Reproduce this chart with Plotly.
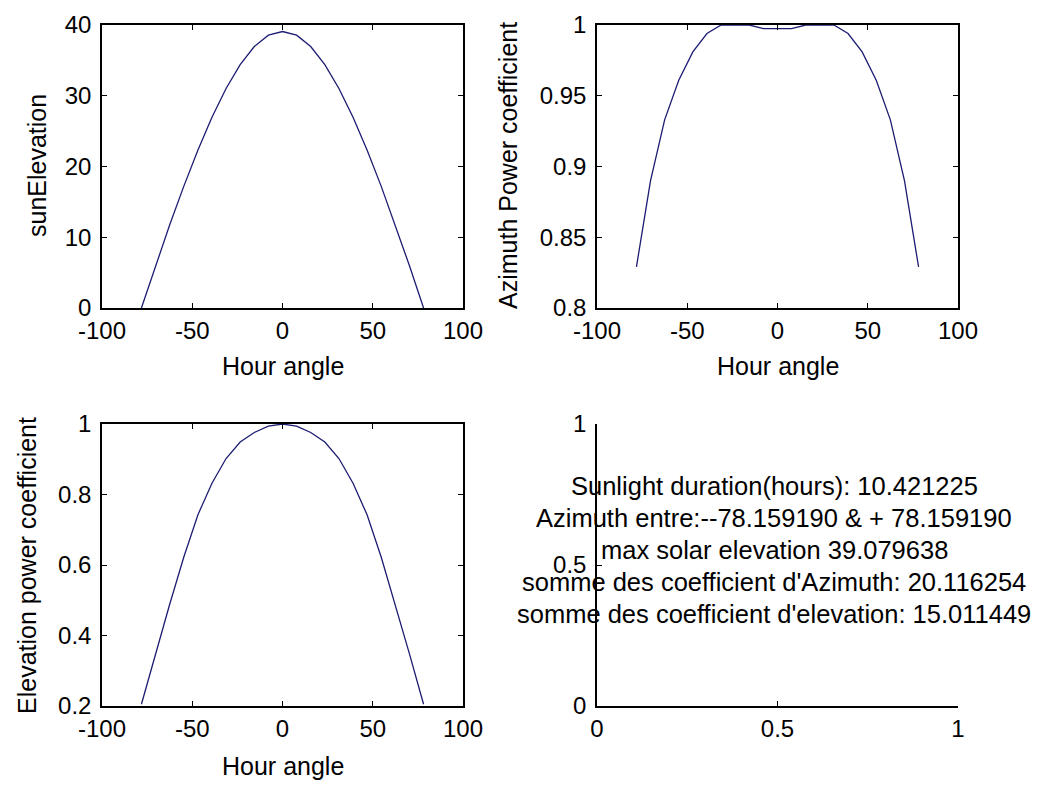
import plotly.graph_objects as go

# ---------------- data ----------------
hour_angle = [-78.16, -70.34, -62.53, -54.71, -46.90, -39.08, -31.26, -23.45, -15.63, -7.82,
              0.0, 7.82, 15.63, 23.45, 31.26, 39.08, 46.90, 54.71, 62.53, 70.34, 78.16]

sun_elevation = [0.0, 5.98, 11.73, 17.19, 22.30, 26.95, 31.03, 34.41, 36.96, 38.56,
                 39.08, 38.56, 36.96, 34.41, 31.03, 26.95, 22.30, 17.19, 11.73, 5.98, 0.0]

azimuth_coef = [0.829, 0.890, 0.933, 0.961, 0.981, 0.994, 1.0, 1.0, 1.0, 0.9975,
                0.9975, 0.9975, 1.0, 1.0, 1.0, 0.994, 0.981, 0.961, 0.933, 0.890, 0.829]

elevation_coef = [0.205, 0.348, 0.488, 0.622, 0.742, 0.832, 0.902, 0.949, 0.976, 0.994,
                  1.0, 0.994, 0.976, 0.949, 0.902, 0.832, 0.742, 0.622, 0.488, 0.348, 0.205]

x_ticks = [-100, -50, 0, 50, 100]
x_tick_text = ["-100", "-50", "0", "50", "100"]
elev_ticks = [0, 10, 20, 30, 40]
elev_tick_text = ["0", "10", "20", "30", "40"]
az_ticks = [0.8, 0.85, 0.9, 0.95, 1.0]
az_tick_text = ["0.8", "0.85", "0.9", "0.95", "1"]
ec_ticks = [0.2, 0.4, 0.6, 0.8, 1.0]
ec_tick_text = ["0.2", "0.4", "0.6", "0.8", "1"]
unit_ticks = [0, 0.5, 1]
unit_tick_text = ["0", "0.5", "1"]

info_lines = [
    "Sunlight duration(hours): 10.421225",
    "Azimuth entre:--78.159190 & + 78.159190",
    "max solar elevation 39.079638",
    "somme des coefficient d'Azimuth: 20.116254",
    "somme des coefficient d'elevation: 15.011449",
]

# ---------------- layout helpers ----------------
# the page body has an 8px default margin, so the figure is offset by 8px
OFF = 8
W, H = 1041 - OFF, 787 - OFF
FONT = "Liberation Sans, Arial, sans-serif"
LINE_COLOR = "#1c1c72"
TICK_SIZE = 24
TITLE_SIZE = 25
INFO_SIZE = 25.5


def px(a):
    return (a - OFF) / W


def py(a):
    return 1 - (a - OFF) / H


col1 = [px(102), px(463)]
col2 = [px(597), px(958)]
row1 = [py(308), py(25)]
row2 = [py(706), py(424)]

fig = go.Figure()

fig.add_trace(go.Scatter(x=hour_angle, y=sun_elevation, mode="lines",
                         line=dict(color=LINE_COLOR, width=1.3), xaxis="x", yaxis="y",
                         showlegend=False))
fig.add_trace(go.Scatter(x=hour_angle, y=azimuth_coef, mode="lines",
                         line=dict(color=LINE_COLOR, width=1.3), xaxis="x2", yaxis="y2",
                         showlegend=False))
fig.add_trace(go.Scatter(x=hour_angle, y=elevation_coef, mode="lines",
                         line=dict(color=LINE_COLOR, width=1.3), xaxis="x3", yaxis="y3",
                         showlegend=False))
# empty axes for the text panel
fig.add_trace(go.Scatter(x=[], y=[], mode="lines", xaxis="x4", yaxis="y4", showlegend=False))

box_axis = dict(showline=True, linecolor="black", linewidth=1.5, mirror="allticks",
                ticks="inside", ticklen=5, tickcolor="black", tickwidth=1,
                showgrid=False, zeroline=False, fixedrange=True, automargin=False,
                tickfont=dict(family=FONT, size=TICK_SIZE, color="black"))

xa = dict(box_axis, range=[-100, 100], tickvals=x_ticks, ticktext=x_tick_text,
          ticklabelstandoff=0)
ya = dict(box_axis, ticklabelstandoff=4)

fig.update_layout(
    width=W, height=H,
    margin=dict(l=0, r=0, t=0, b=0, pad=0, autoexpand=False),
    paper_bgcolor="white", plot_bgcolor="white",
    font=dict(family=FONT, color="black"),
    showlegend=False,
    xaxis=dict(xa, domain=col1, anchor="y"),
    yaxis=dict(ya, domain=row1, anchor="x", range=[0, 40], tickvals=elev_ticks,
               ticktext=elev_tick_text),
    xaxis2=dict(xa, domain=col2, anchor="y2"),
    yaxis2=dict(ya, domain=row1, anchor="x2", range=[0.8, 1.0], tickvals=az_ticks,
                ticktext=az_tick_text),
    xaxis3=dict(xa, domain=col1, anchor="y3"),
    yaxis3=dict(ya, domain=row2, anchor="x3", range=[0.2, 1.0], tickvals=ec_ticks,
                ticktext=ec_tick_text),
    xaxis4=dict(box_axis, domain=col2, anchor="y4", range=[0, 1], tickvals=unit_ticks,
                ticktext=unit_tick_text, mirror=False, ticklabelstandoff=0),
    yaxis4=dict(ya, domain=row2, anchor="x4", range=[0, 1], tickvals=unit_ticks,
                ticktext=unit_tick_text, mirror=False),
)

title_font = dict(family=FONT, size=TITLE_SIZE, color="black")
annotations = [
    # x titles
    dict(text="Hour angle", x=px((102 + 463) / 2), y=py(366)),
    dict(text="Hour angle", x=px((597 + 958) / 2), y=py(366)),
    dict(text="Hour angle", x=px((102 + 463) / 2), y=py(766)),
    # y titles
    dict(text="sunElevation", x=px(37), y=py(166), textangle=-90),
    dict(text="Azimuth Power coefficient", x=px(508), y=py(166), textangle=-90),
    dict(text="Elevation power coefficient", x=px(27), y=py(566), textangle=-90),
]
for a in annotations:
    a.update(xref="paper", yref="paper", showarrow=False, xanchor="center",
             yanchor="middle", font=title_font)

# information text block, one line per annotation (centred, ~32px line pitch)
line_centres = [486, 518, 550, 582, 614]
for line, yc in zip(info_lines, line_centres):
    annotations.append(dict(
        text=line, xref="paper", yref="paper", x=px(774), y=py(yc),
        showarrow=False, xanchor="center", yanchor="middle", align="center",
        font=dict(family=FONT, size=INFO_SIZE, color="black"),
    ))
fig.update_layout(annotations=annotations)

fig.write_html("out.html")
